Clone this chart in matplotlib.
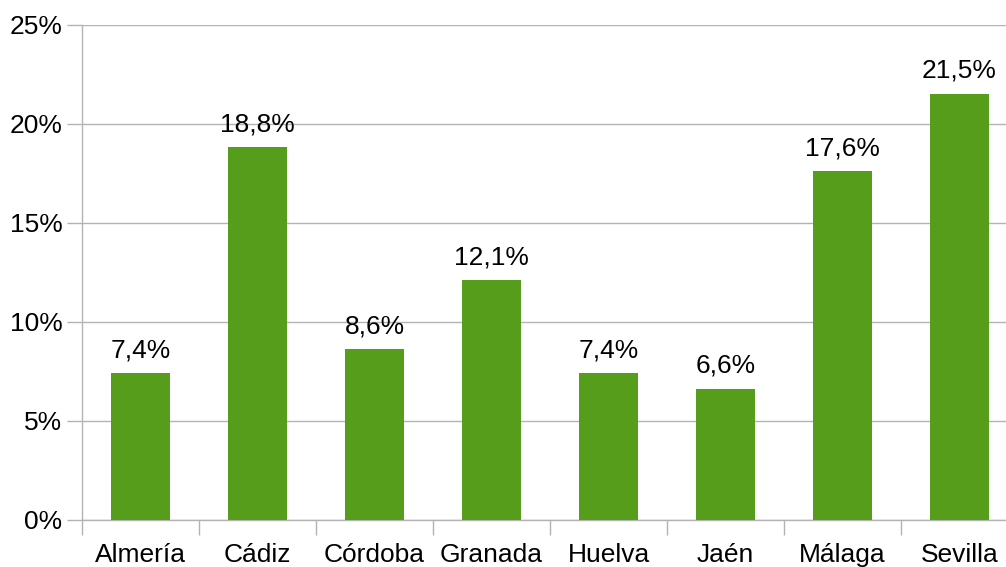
import matplotlib.pyplot as plt
from matplotlib.ticker import FuncFormatter

plt.rcParams['font.family'] = ['Liberation Sans', 'DejaVu Sans']

provincias = ['Almería', 'Cádiz', 'Córdoba', 'Granada', 'Huelva', 'Jaén', 'Málaga', 'Sevilla']
porcentajes = [7.4, 18.8, 8.6, 12.1, 7.4, 6.6, 17.6, 21.5]

fig = plt.figure(figsize=(10.06, 5.67), dpi=100)
ax = fig.add_axes([82 / 1006, 47.5 / 567, 924 / 1006, 495 / 567])

x = list(range(len(provincias)))
barras = ax.bar(x, porcentajes, width=0.504, color='#579d1c', zorder=3)

for xi, v in zip(x, porcentajes):
    ax.text(xi, v + 0.55, f'{v:.1f}%'.replace('.', ','), ha='center', va='bottom',
            fontsize=19, color='black')

ax.set_yticks([0, 5, 10, 15, 20, 25])
ax.yaxis.set_major_formatter(FuncFormatter(lambda v, p: f'{v:.0f}%'))
ax.grid(axis='y', color='#b3b3b3', linewidth=1, zorder=0)

# ticks between categories, labels centred
ax.set_xticks([i - 0.5 for i in range(len(provincias) + 1)])
ax.set_xticklabels([])
ax.set_xticks(x, minor=True)
ax.set_xticklabels(provincias, minor=True)
ax.tick_params(axis='x', which='minor', length=0, labelsize=19, pad=17)
ax.tick_params(axis='x', which='major', length=11, color='#b3b3b3', width=1)
ax.tick_params(axis='y', length=11, color='#b3b3b3', width=1, labelsize=19, pad=3)

ax.set_ylim(0, 25)
ax.set_xlim(-0.5, -0.5 + 924 / 117)

for s in ['top', 'right']:
    ax.spines[s].set_visible(False)
for s in ['left', 'bottom']:
    ax.spines[s].set_color('#b3b3b3')
    ax.spines[s].set_linewidth(1)

fig.savefig('out.png', dpi=100)
